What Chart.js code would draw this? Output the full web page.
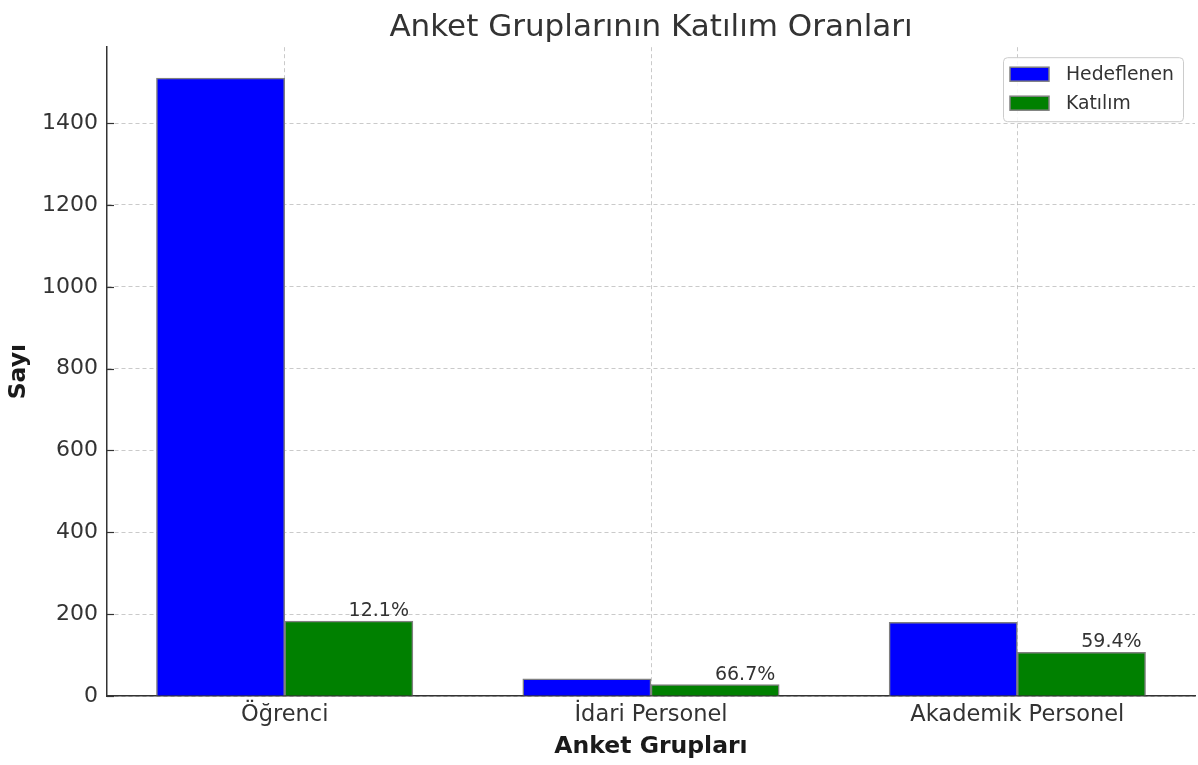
<!DOCTYPE html>
<html lang="tr">
<head>
<meta charset="utf-8">
<title>Anket Gruplarının Katılım Oranları</title>
<script src="https://cdn.jsdelivr.net/npm/chart.js@4.4.1/dist/chart.umd.min.js"></script>
<style>
  html, body { margin: 0; padding: 0; background: #fff; }
  #wrap { width: 1198px; height: 765px; }
</style>
</head>
<body>
<div id="wrap"><canvas id="surveyChart"></canvas></div>
<script>
const groups    = ['Öğrenci', 'İdari Personel', 'Akademik Personel'];
const targeted  = [1510, 42, 180];
const responded = [183, 28, 107];
const yTicks    = [0, 200, 400, 600, 800, 1000, 1200, 1400];

const TEXT  = '#333333';
const FONT  = "'DejaVu Sans', sans-serif";
const BAR_W = 0.35;
const GRID  = 'rgba(150,150,150,0.5)';

// small helper: bars sit either side of the group index
const toPoints = (arr, shift) => arr.map((v, i) => ({ x: i + shift, y: v }));

const extras = {
  id: 'extras',
  afterDraw(chart) {
    const { ctx, chartArea, scales } = chart;

    // inward tick marks on y axis
    ctx.save();
    ctx.strokeStyle = TEXT;
    ctx.lineWidth = 1.2;
    yTicks.forEach(v => {
      const y = Math.round(scales.y.getPixelForValue(v)) + 0.5;
      ctx.beginPath();
      ctx.moveTo(chartArea.left, y);
      ctx.lineTo(chartArea.left + 7, y);
      ctx.stroke();
    });
    ctx.restore();

    // percentage labels over the Katılım bars
    const meta = chart.getDatasetMeta(1);
    ctx.save();
    ctx.font = '19px ' + FONT;
    ctx.fillStyle = TEXT;
    ctx.textAlign = 'center';
    ctx.textBaseline = 'alphabetic';
    meta.data.forEach((bar, i) => {
      const pct = (responded[i] / targeted[i] * 100).toFixed(1) + '%';
      ctx.fillText(pct, bar.x + 30, bar.y - 5);
    });
    ctx.restore();

    // legend box
    const bw = 180, bh = 64;
    const bx = chartArea.right - 12 - bw, by = chartArea.top + 10;
    ctx.save();
    ctx.beginPath();
    ctx.roundRect(bx + 0.5, by + 0.5, bw, bh, 4);
    ctx.fillStyle = 'rgba(255,255,255,0.85)';
    ctx.fill();
    ctx.strokeStyle = '#cccccc';
    ctx.lineWidth = 1;
    ctx.stroke();
    ctx.font = '18.8px ' + FONT;
    ctx.textBaseline = 'middle';
    chart.data.datasets.forEach((ds, i) => {
      const ry = by + 17 + i * 29;
      ctx.fillStyle = ds.backgroundColor;
      ctx.fillRect(bx + 7, ry - 7, 39, 14);
      ctx.strokeStyle = ds.borderColor;
      ctx.lineWidth = 1.5;
      ctx.strokeRect(bx + 7, ry - 7, 39, 14);
      ctx.fillStyle = TEXT;
      ctx.fillText(ds.label, bx + 63, ry + 1);
    });
    ctx.restore();
  }
};

const ctx = document.getElementById('surveyChart').getContext('2d');

new Chart(ctx, {
  type: 'bar',
  data: {
    datasets: [
      {
        label: 'Hedeflenen',
        data: toPoints(targeted, -BAR_W / 2),
        backgroundColor: '#0000ff',
        borderColor: '#808080',
        borderWidth: 1.5,
      },
      {
        label: 'Katılım',
        data: toPoints(responded, BAR_W / 2),
        backgroundColor: '#008000',
        borderColor: '#808080',
        borderWidth: 1.5,
      }
    ]
  },
  options: {
    responsive: true,
    maintainAspectRatio: false,
    animation: false,
    layout: { padding: { left: 0, right: 3, top: 0, bottom: 0 } },
    datasets: {
      bar: { grouped: false, barPercentage: 1, categoryPercentage: 1 }
    },
    plugins: {
      legend: { display: false },
      tooltip: { enabled: false },
      title: {
        display: true,
        fullSize: false,
        text: 'Anket Gruplarının Katılım Oranları',
        color: TEXT,
        font: { family: FONT, size: 31, weight: 'normal' },
        padding: { top: 9, bottom: 1 }
      }
    },
    scales: {
      x: {
        type: 'linear',
        min: -0.485,
        max: 2.485,
        offset: false,
        z: 1,
        afterBuildTicks: s => { s.ticks = groups.map((g, i) => ({ value: i })); },
        afterFit: s => { s.height = 69; },
        ticks: {
          color: TEXT,
          font: { family: FONT, size: 22.5 },
          padding: 6,
          callback: v => groups[v]
        },
        grid: {
          offset: false,
          color: GRID,
          lineWidth: 1,
          drawTicks: false,
        },
        border: { color: TEXT, width: 1.5, dash: [4, 3] },
        title: {
          display: true,
          text: 'Anket Grupları',
          color: '#1a1a1a',
          font: { family: FONT, size: 23.5, weight: 'bold' },
          padding: { top: 0, bottom: 4 }
        }
      },
      y: {
        min: 0,
        max: Math.max(...targeted) * 1.05,
        z: 1,
        afterBuildTicks: s => { s.ticks = yTicks.map(v => ({ value: v })); },
        afterFit: s => { s.width = 107; },
        ticks: {
          color: TEXT,
          font: { family: FONT, size: 22 },
          padding: 9,
          callback: v => String(v)
        },
        grid: {
          color: GRID,
          lineWidth: 1,
          drawTicks: false,
        },
        border: { color: TEXT, width: 1.5, dash: [4, 3] },
        title: {
          display: true,
          text: 'Sayı',
          color: '#1a1a1a',
          font: { family: FONT, size: 23.5, weight: 'bold' },
          padding: { top: 5, bottom: 0 }
        }
      }
    }
  },
  plugins: [extras]
});
</script>
</body>
</html>
